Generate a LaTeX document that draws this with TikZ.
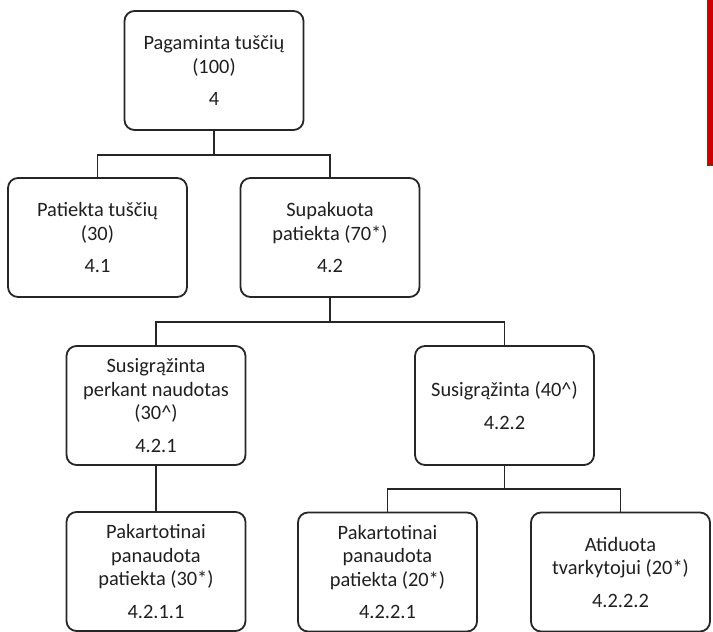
\documentclass[tikz,border=0pt]{standalone}
\usepackage{fontspec}
\setmainfont{Carlito}
\definecolor{barred}{RGB}{204,0,0}
\definecolor{bargreen}{RGB}{40,90,40}
\begin{document}
\begin{tikzpicture}[x=1pt,y=-1pt,
  box/.style={draw=black!85, line width=1.8pt, rounded corners=10pt,
    minimum width=179pt, minimum height=119pt, inner sep=0pt, align=center,
    text=black!88, font=\fontsize{20.4}{23.5}\selectfont},
  conn/.style={draw=black!85, line width=1.8pt}]
\useasboundingbox (0,0) rectangle (713,632);
% red bar at top right
\fill[barred] (707.5,0) rectangle (713,165);
\draw[bargreen, line width=1pt] (707.5,0) -- (707.5,165) -- (713,165);

\node[box] (b1)    at (214,70.5)   {Pagaminta tuščių\\(100)\\[9pt]4};
\node[box] (b41)   at (97.5,237.5) {Patiekta tuščių\\(30)\\[9pt]4.1};
\node[box] (b42)   at (330,237.5)  {Supakuota\\patiekta (70*)\\[9pt]4.2};
\node[box] (b421)  at (156,405.5)  {Susigrąžinta\\perkant naudotas\\(30\^{})\\[9pt]4.2.1};
\node[box] (b422)  at (504.5,405.5){Susigrąžinta (40\^{})\\[9pt]4.2.2};
\node[box] (b4211) at (156,571.5)  {Pakartotinai\\panaudota\\patiekta (30*)\\[9pt]4.2.1.1};
\node[box] (b4221) at (387.5,572)  {Pakartotinai\\panaudota\\patiekta (20*)\\[9pt]4.2.2.1};
\node[box] (b4222) at (620.5,572)  {Atiduota\\tvarkytojui (20*)\\[9pt]4.2.2.2};

\coordinate (j1) at (0,155);
\coordinate (j2) at (0,322);
\coordinate (j3) at (0,489);

\draw[conn] (b1.south) -- (b1.south |- j1) -| (b41.north);
\draw[conn] (b1.south |- j1) -| (b42.north);
\draw[conn] (b42.south) -- (b42.south |- j2) -| (b421.north);
\draw[conn] (b42.south |- j2) -| (b422.north);
\draw[conn] (b421.south) -- (b4211.north);
\draw[conn] (b422.south) -- (b422.south |- j3) -| (b4221.north);
\draw[conn] (b422.south |- j3) -| (b4222.north);
\end{tikzpicture}
\end{document}
